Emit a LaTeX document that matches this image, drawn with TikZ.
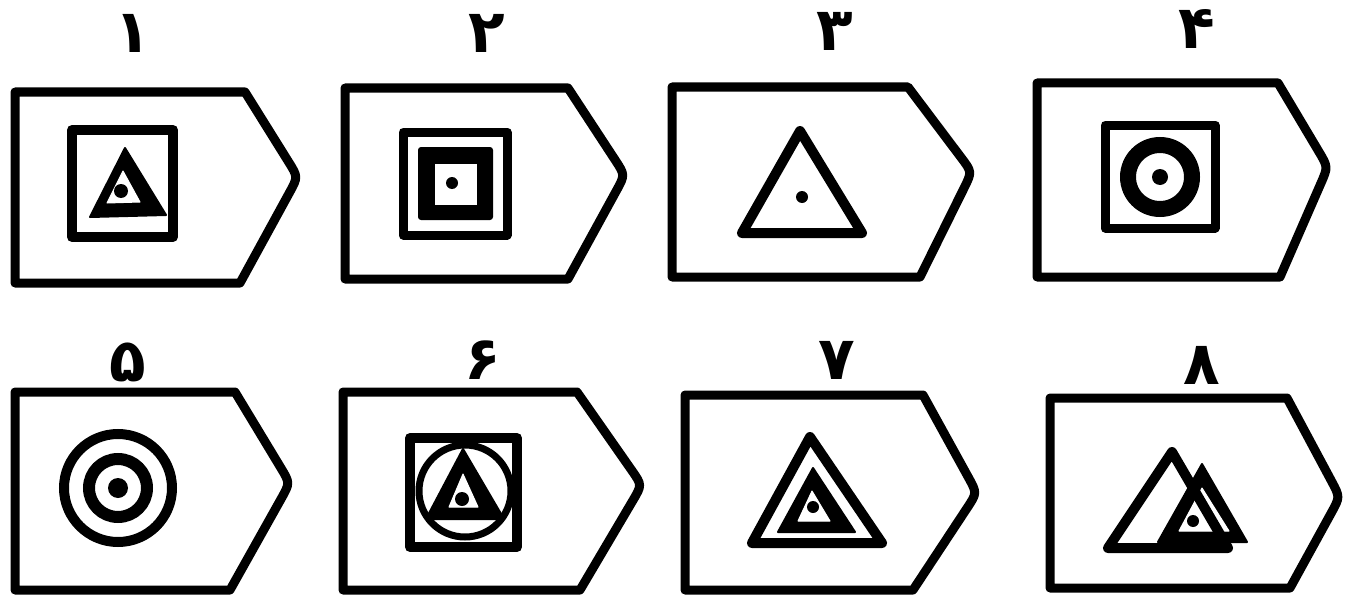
\documentclass[tikz,border=0pt]{standalone}
\usepackage{fontspec}
\newfontfamily\fadigits[Script=Arabic]{DejaVu Sans}
\usetikzlibrary{calc}
\tikzset{
  tagline/.style={line width=9pt, line join=round, line cap=round},
  sqline/.style={line width=10pt, line join=round},
  triline/.style={line width=10pt, line join=round},
  solid fill/.style={fill=black, draw=black, line width=2pt, line join=round},
  hole/.style={fill=white, draw=white, line width=1pt, line join=round},
  numlabel/.style={font=\fadigits\bfseries\fontsize{60}{60}\selectfont, inner sep=0pt}
}
% tag outline: TL TR P BR BL
\newcommand\tagoutline[5]{%
  \draw[tagline] #1 -- #2 -- ($#3!18pt!#2$) .. controls #3 .. ($#3!18pt!#4$) -- #4 -- #5 -- cycle;}
\begin{document}
\begin{tikzpicture}[x=1pt,y=-1pt]
\useasboundingbox (0,0) rectangle (1355,602);
\fill[white] (0,0) rectangle (1355,602);

% ---------- labels ----------
\node[numlabel] (l1) at (133,33) {۱};
\node[numlabel] (l2) at (487,33) {۲};
\node[numlabel] (l3) at (835,31) {۳};
\node[numlabel] (l4) at (1197,29) {۴};
\node[numlabel] (l5) at (128,362) {۵};
\node[numlabel] (l6) at (483,360) {۶};
\node[numlabel] (l7) at (837,360) {۷};
\node[numlabel] (l8) at (1202,365) {۸};

% ---------- panel 1 ----------
\tagoutline{(15,92)}{(245,92)}{(298,177)}{(240,283)}{(15,283)}
\draw[sqline] (72,130) rectangle (173,237);
\filldraw[solid fill] (125,148) -- (90,217) -- (166,215) -- cycle;
\filldraw[hole] (123,171) -- (107,203) -- (140,202) -- cycle;
\fill (121,191) circle[radius=7pt];

% ---------- panel 2 ----------
\tagoutline{(345,88)}{(568,88)}{(625,175)}{(568,279)}{(345,279)}
\draw[line width=9pt, line join=round] (403,132) rectangle (507,235);
\fill[rounded corners=3pt] (418,147) rectangle (493,220);
\fill[white] (435,164) rectangle (477,205);
\fill (452,183) circle[radius=6pt];

% ---------- panel 3 ----------
\tagoutline{(672,87)}{(908,87)}{(972,172)}{(920,277)}{(672,277)}
\draw[triline] (800,131) -- (742,233) -- (862,233) -- cycle;
\fill (802,197) circle[radius=6pt];

% ---------- panel 4 ----------
\tagoutline{(1037,83)}{(1278,83)}{(1328,167)}{(1280,277)}{(1037,277)}
\draw[line width=9pt, line join=round] (1105,125) rectangle (1215,228);
\draw[line width=16pt] (1160,177) circle[radius=32pt];
\fill (1160,177) circle[radius=8pt];

% ---------- panel 5 ----------
\tagoutline{(15,392)}{(235,392)}{(290,483)}{(230,590)}{(15,590)}
\draw[line width=10pt] (118,488) circle[radius=54pt];
\draw[line width=12pt] (118,488) circle[radius=29pt];
\fill (118,488) circle[radius=10pt];

% ---------- panel 6 ----------
\tagoutline{(343,392)}{(577,392)}{(642,485)}{(580,590)}{(343,590)}
\draw[sqline] (410,438) rectangle (517,547);
\draw[line width=7pt] (465,491) circle[radius=46pt];
\filldraw[solid fill] (463,449) -- (426,519) -- (504,519) -- cycle;
\filldraw[hole] (463,474) -- (449,507) -- (478,507) -- cycle;
\fill (462,499) circle[radius=7pt];

% ---------- panel 7 ----------
\tagoutline{(685,395)}{(923,395)}{(977,493)}{(913,590)}{(685,590)}
\draw[triline] (810,437) -- (752,543) -- (882,543) -- cycle;
\filldraw[solid fill] (813,468) -- (778,532) -- (855,532) -- cycle;
\filldraw[hole] (812,491) -- (798,521) -- (830,521) -- cycle;
\fill (813,507) circle[radius=6pt];

% ---------- panel 8 ----------
\tagoutline{(1050,398)}{(1287,398)}{(1340,497)}{(1290,588)}{(1050,588)}
\filldraw[solid fill] (1202,464) -- (1158,542) -- (1247,542) -- cycle;
\filldraw[hole] (1202,488) -- (1179,531) -- (1229,531) -- cycle;
\draw[triline] (1172,452) -- (1108,548) -- (1228,548) -- cycle;
\fill (1193,521) circle[radius=6pt];
\end{tikzpicture}
\end{document}
